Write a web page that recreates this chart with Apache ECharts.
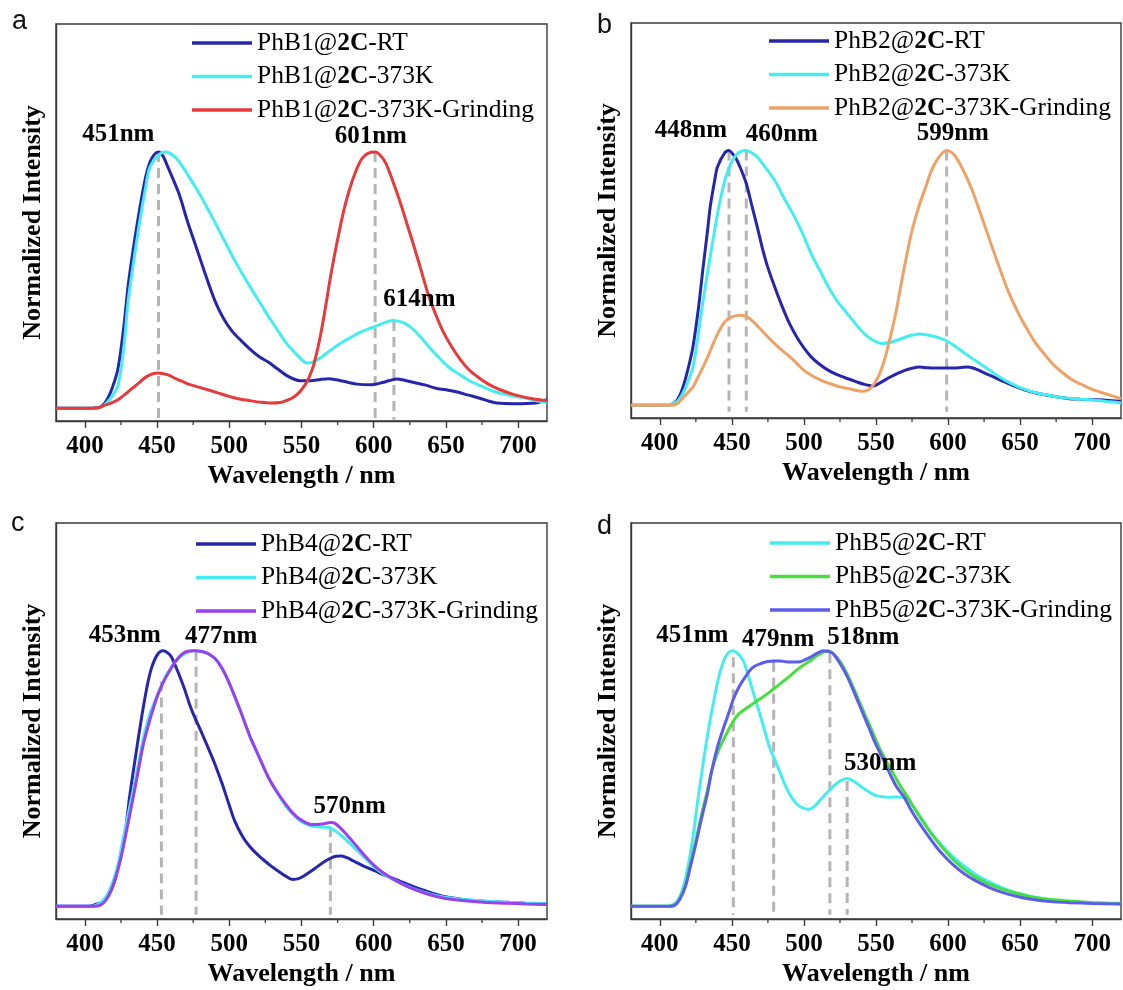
<!DOCTYPE html>
<html>
<head>
<meta charset="utf-8">
<script src="https://cdn.jsdelivr.net/npm/echarts@6/dist/echarts.min.js"></script>
<style>
html,body{margin:0;padding:0;background:#fff;}
#chart{width:1123px;height:990px;}
</style>
</head>
<body>
<div id="chart"></div>
<script>
// ---------- DATA ----------
const xTicks = [400, 450, 500, 550, 600, 650, 700];
const xMinorTicks = [425, 475, 525, 575, 625, 675];

// Panel a
const namesA = ['PhB1@2C-RT', 'PhB1@2C-373K', 'PhB1@2C-373K-Grinding'];
const a_RT = [[380,0],[405,0],[411,0.005],[415,0.03],[419,0.08],[423,0.157],[427,0.32],[430,0.48],[434,0.64],[438,0.78],[442,0.9],[445,0.96],[448,0.99],[451,1.0],[454,0.985],[457.6,0.94],[465,0.84],[471,0.73],[477,0.63],[483,0.53],[490,0.42],[496,0.35],[502,0.30],[508,0.265],[514.5,0.23],[521,0.2],[527,0.18],[533,0.155],[539,0.13],[545,0.113],[549,0.107],[556.5,0.107],[563,0.112],[569,0.115],[574,0.111],[579,0.105],[588.7,0.094],[598.6,0.092],[606,0.10],[611,0.108],[616,0.114],[622,0.108],[628,0.10],[636,0.09],[643,0.078],[650,0.072],[658,0.063],[665,0.052],[673,0.04],[680,0.027],[685,0.02],[697.5,0.017],[712,0.02],[720,0.033]];
const a_373K = [[380,0],[408,0],[413,0.01],[418,0.04],[423,0.09],[427,0.24],[430,0.42],[434,0.58],[438,0.73],[442,0.86],[445,0.94],[451.4,0.99],[456,1.0],[462.6,0.98],[468,0.94],[472.5,0.9],[479,0.84],[485,0.78],[491,0.715],[497,0.65],[503,0.585],[509.5,0.52],[516,0.46],[522,0.405],[528,0.35],[534,0.30],[540,0.25],[546.6,0.21],[551,0.185],[554,0.176],[559,0.183],[564,0.2],[569,0.222],[576,0.25],[583.7,0.275],[591,0.297],[598.6,0.314],[606,0.33],[613,0.342],[617,0.34],[621,0.333],[627,0.31],[633,0.275],[639,0.235],[645.6,0.196],[652,0.16],[660,0.13],[667,0.105],[675,0.085],[682,0.068],[690,0.055],[698,0.046],[705,0.04],[712,0.03],[720,0.022]];
const a_Grind = [[380,0],[405,0],[410,0.003],[413,0.01],[418,0.02],[423,0.033],[428,0.055],[433,0.078],[438,0.102],[443,0.124],[450,0.137],[457.6,0.13],[463,0.115],[470,0.098],[477,0.085],[485,0.072],[492,0.06],[499.7,0.046],[507,0.036],[514.5,0.029],[522,0.023],[529,0.02],[535,0.022],[539,0.029],[543,0.038],[546.6,0.052],[550,0.072],[554,0.105],[557,0.145],[559,0.18],[563,0.28],[566.5,0.39],[570,0.51],[574,0.63],[578,0.74],[581,0.81],[585,0.885],[588.7,0.94],[592,0.975],[596,0.995],[601,1.0],[605,0.985],[608.5,0.955],[613,0.89],[618,0.81],[623,0.72],[628,0.63],[633,0.535],[638,0.44],[643,0.365],[648,0.30],[654,0.24],[660,0.19],[666,0.15],[673,0.118],[680,0.092],[687.6,0.072],[695,0.057],[702,0.046],[710,0.037],[720,0.029]];
const peaksA = [451, 601, 614];
const peakTopsA = [1.0, 1.0, 0.34];

// Panel b
const namesB = ['PhB2@2C-RT', 'PhB2@2C-373K', 'PhB2@2C-373K-Grinding'];
const b_RT = [[380,0],[405,0],[408,0.003],[412,0.02],[415.4,0.06],[419,0.13],[423,0.23],[427,0.39],[430,0.54],[433,0.68],[435,0.78],[438,0.88],[440,0.935],[445,0.99],[448,1.0],[450,0.99],[452.7,0.97],[456,0.93],[460,0.87],[464,0.78],[467.6,0.70],[471,0.62],[475,0.54],[480,0.46],[485,0.386],[490,0.32],[495,0.268],[500,0.225],[505,0.19],[511,0.16],[517,0.137],[523,0.12],[530,0.105],[536,0.093],[542,0.082],[548,0.076],[554,0.092],[559.6,0.11],[565,0.125],[570,0.137],[575,0.145],[580,0.15],[586,0.147],[592,0.146],[598,0.146],[604,0.146],[609,0.148],[614,0.15],[619,0.143],[624,0.13],[630,0.115],[636.7,0.098],[645,0.077],[654,0.059],[661,0.048],[669,0.039],[676,0.032],[684,0.026],[692,0.024],[701,0.022],[710,0.02],[720,0.016]];
const b_373K = [[380,0],[406,0],[408,0.003],[412,0.015],[415.4,0.04],[419,0.085],[423,0.15],[427,0.29],[430,0.41],[434,0.55],[438,0.686],[441,0.78],[445,0.88],[449,0.945],[452.7,0.98],[456,0.995],[460,1.0],[464,0.99],[467.6,0.974],[473,0.935],[480,0.88],[486,0.815],[492.5,0.75],[499,0.675],[505,0.595],[511,0.53],[517,0.464],[523,0.41],[530,0.36],[536,0.318],[542,0.28],[548,0.255],[554.6,0.242],[561,0.248],[567,0.26],[573,0.272],[579.5,0.28],[586,0.276],[592,0.268],[598,0.255],[604,0.235],[610,0.21],[617,0.183],[623,0.16],[629,0.137],[636,0.11],[644,0.085],[651,0.067],[659,0.052],[669,0.04],[679,0.03],[689,0.025],[699,0.022],[710,0.015],[720,0.009]];
const b_Grind = [[380,0],[408,0],[411,0.003],[413,0.01],[417,0.035],[423,0.072],[426,0.105],[430,0.15],[434,0.2],[438,0.255],[441,0.29],[445,0.327],[450,0.347],[456.4,0.353],[461,0.345],[465,0.327],[470,0.298],[475,0.268],[481,0.235],[487.5,0.203],[494,0.17],[500,0.137],[506,0.115],[512,0.098],[518,0.085],[525,0.072],[532,0.064],[540,0.055],[544,0.058],[547,0.072],[550,0.095],[552.6,0.124],[556,0.18],[560,0.268],[564,0.37],[567.5,0.477],[571,0.58],[575,0.686],[580,0.785],[584.5,0.856],[588,0.915],[592,0.96],[596,0.99],[599,1.0],[603,0.99],[607,0.96],[612,0.905],[617,0.84],[623,0.745],[629,0.647],[635,0.55],[641.6,0.45],[648,0.37],[654,0.307],[660,0.25],[666.5,0.203],[673,0.16],[679,0.13],[686,0.1],[694,0.078],[701,0.06],[708.7,0.046],[715,0.035],[720,0.026]];
const peaksB = [448, 460, 599];
const peakTopsB = [1.0, 1.0, 1.0];

// Panel c
const namesC = ['PhB4@2C-RT', 'PhB4@2C-373K', 'PhB4@2C-373K-Grinding'];
const c_RT = [[380,0],[403,0],[405.7,0.003],[409,0.01],[413,0.02],[417,0.05],[420.5,0.098],[424,0.18],[428,0.295],[431,0.43],[435,0.583],[439,0.73],[443,0.858],[446,0.93],[450,0.983],[454,1.0],[459,0.983],[462,0.95],[465,0.91],[469,0.85],[472.5,0.79],[476,0.74],[480,0.69],[485,0.625],[490,0.557],[495,0.48],[499.7,0.40],[504,0.33],[509.5,0.27],[514,0.235],[519.4,0.203],[524,0.18],[529,0.157],[534,0.137],[539,0.118],[544,0.105],[548,0.108],[551.6,0.118],[556,0.135],[561.5,0.157],[566,0.175],[571,0.19],[574,0.196],[577.6,0.197],[582,0.189],[586,0.177],[591,0.163],[596,0.15],[601,0.138],[606,0.125],[612,0.112],[618,0.098],[625,0.082],[633,0.066],[640,0.052],[648,0.039],[658,0.029],[668,0.022],[680,0.018],[692.5,0.016],[705,0.012],[720,0.009]];
const c_373K = [[380,0],[405,0],[408,0.004],[412,0.02],[415.6,0.046],[419,0.09],[423,0.164],[426,0.25],[430,0.36],[434,0.47],[438,0.583],[441,0.67],[445,0.754],[449,0.81],[452.7,0.858],[456,0.9],[460,0.937],[464,0.965],[467.5,0.983],[472,0.996],[476,1.0],[480,0.998],[485,0.99],[489,0.975],[492,0.957],[497,0.91],[502,0.846],[508,0.76],[514.5,0.662],[521,0.58],[527,0.505],[533,0.445],[539,0.393],[544,0.36],[549,0.334],[556.5,0.315],[563,0.31],[569,0.308],[574,0.292],[579,0.27],[584,0.243],[588.7,0.216],[595,0.183],[601,0.15],[607,0.125],[613.4,0.105],[620,0.087],[626,0.072],[634,0.056],[643,0.042],[652,0.033],[663,0.026],[675,0.021],[687.6,0.017],[703,0.013],[720,0.009]];
const c_Grind = [[380,0],[407,0],[410.6,0.004],[414,0.02],[418,0.059],[422,0.125],[425.5,0.203],[429,0.3],[433,0.413],[437,0.53],[440,0.622],[444,0.71],[447.7,0.78],[451,0.835],[455,0.885],[459,0.925],[462.6,0.957],[466,0.98],[470,0.996],[476,1.0],[480,0.998],[485,0.99],[489,0.975],[492,0.957],[497,0.91],[502,0.846],[508,0.76],[514.5,0.662],[521,0.58],[527,0.505],[533,0.448],[539,0.40],[544,0.365],[549,0.34],[556.5,0.32],[561,0.32],[566.5,0.324],[570,0.328],[572.6,0.326],[577,0.306],[581,0.282],[586,0.25],[591,0.216],[597,0.178],[603.5,0.144],[610,0.118],[616,0.098],[622,0.081],[628,0.066],[636,0.05],[645.6,0.035],[655,0.026],[665,0.02],[678,0.015],[692.5,0.012],[705,0.009],[720,0.007]];
const peaksC = [453, 477, 570];
const peakTopsC = [0.88, 1.0, 0.31];

// Panel d
const namesD = ['PhB5@2C-RT', 'PhB5@2C-373K', 'PhB5@2C-373K-Grinding'];
const d_RT = [[380,0],[405,0],[408,0.003],[412,0.02],[415.4,0.06],[419,0.14],[423,0.27],[426,0.4],[430,0.558],[434,0.7],[438,0.82],[441,0.9],[445,0.97],[448,0.995],[450.7,1.0],[454,0.99],[457.7,0.963],[461,0.91],[465,0.833],[469,0.76],[472.6,0.69],[476,0.625],[480,0.571],[484,0.515],[487.5,0.467],[491,0.43],[495,0.40],[499,0.385],[503.7,0.38],[508,0.395],[512,0.42],[516,0.445],[520,0.467],[525,0.49],[530,0.50],[535,0.488],[540,0.467],[545,0.448],[549.6,0.434],[555,0.428],[559.6,0.427],[565,0.428],[569.5,0.427],[573,0.41],[577,0.38],[582,0.34],[587,0.297],[593,0.255],[599,0.218],[606,0.18],[614,0.146],[621,0.118],[629,0.094],[637,0.073],[646,0.055],[656,0.04],[666.5,0.029],[678,0.022],[691,0.016],[705,0.013],[720,0.012]];
const d_373K = [[380,0],[407,0],[410.4,0.004],[414,0.03],[418,0.088],[421,0.16],[425,0.258],[429,0.36],[433,0.454],[436,0.53],[440,0.60],[444,0.65],[447.7,0.69],[451,0.725],[455,0.754],[460,0.775],[465,0.794],[470,0.813],[475,0.833],[480,0.855],[485,0.878],[490,0.9],[495,0.924],[500,0.945],[505,0.963],[509,0.98],[512,0.99],[517,1.0],[520,0.99],[523.5,0.97],[527,0.94],[532,0.885],[537,0.82],[542,0.754],[547,0.69],[552,0.624],[557,0.57],[562,0.52],[567,0.47],[572,0.427],[577,0.38],[582,0.336],[587,0.295],[592,0.258],[598,0.217],[604,0.18],[611,0.145],[619,0.114],[628,0.088],[637,0.068],[648,0.05],[659,0.035],[671,0.026],[684,0.02],[700,0.014],[720,0.009]];
const d_Grind = [[380,0],[407,0],[410.4,0.004],[414,0.028],[418,0.081],[421,0.15],[425,0.244],[429,0.345],[433,0.44],[436,0.53],[440,0.624],[444,0.695],[447.7,0.754],[451,0.81],[455,0.859],[459,0.895],[462.6,0.924],[466,0.94],[470,0.95],[474,0.957],[479,0.96],[483,0.96],[487.5,0.957],[492,0.956],[497.5,0.957],[501,0.965],[505,0.976],[509,0.99],[513.6,1.0],[517,0.997],[520,0.99],[525,0.95],[530,0.90],[535,0.835],[540,0.767],[545,0.7],[549.6,0.637],[555,0.575],[559.6,0.519],[564,0.47],[569.5,0.427],[574,0.38],[579.5,0.33],[585,0.285],[592,0.231],[598,0.193],[604,0.16],[611,0.128],[619,0.10],[628,0.075],[637,0.055],[648,0.038],[659,0.026],[671,0.018],[684,0.014],[700,0.011],[720,0.009]];
const peaksD = [451, 479, 518, 530];
const peakTopsD = [0.975, 0.957, 0.99, 0.49];

// ---------- STYLE / LAYOUT ----------
const SERIF = '"Liberation Serif","Times New Roman",serif';
const Y_MIN = -0.05, Y_MAX = 1.5;
const C = {
  navy: '#2626ad', cyan: '#44eef0', red: '#e8393b', orange: '#eea266',
  purple: '#9a40ef', green: '#46e03c', violet: '#5c5cee', dash: '#b5b5b5', axis: '#3a3a3a'
};
const grids = [
  {left: 56, top: 24, width: 491, height: 397},
  {left: 631, top: 23, width: 490, height: 395},
  {left: 56, top: 523, width: 491, height: 396},
  {left: 631, top: 523, width: 490, height: 396}
];
const annot = [
  [[423.5,1.067],[598.3,1.058],[632,0.422]],
  [[421.9,1.076],[485,1.059],[603.6,1.065]],
  [[428,1.059],[494.7,1.054],[583.7,0.39]],
  [[422.9,1.059],[482.5,1.04],[541.5,1.048],[553.2,0.558]]
];
const dashBottoms = [-0.045, -0.025, -0.033, -0.033];
const legendPos = [
  {left: 187, top: 25}, {left: 764, top: 23}, {left: 191, top: 526}, {left: 765, top: 525}
];

const panels = [
  {names: namesA, data: [a_RT, a_373K, a_Grind], colors: [C.navy, C.cyan, C.red], peaks: peaksA, tops: peakTopsA},
  {names: namesB, data: [b_RT, b_373K, b_Grind], colors: [C.navy, C.cyan, C.orange], peaks: peaksB, tops: peakTopsB},
  {names: namesC, data: [c_RT, c_373K, c_Grind], colors: [C.navy, C.cyan, C.purple], peaks: peaksC, tops: peakTopsC},
  {names: namesD, data: [d_RT, d_373K, d_Grind], colors: [C.cyan, C.green, C.violet], peaks: peaksD, tops: peakTopsD}
];

const xAxes = [], yAxes = [], series = [], legends = [];
panels.forEach((p, i) => {
  xAxes.push({
    type: 'value', gridIndex: i, min: 380, max: 720, position: 'bottom',
    name: 'Wavelength / nm', nameLocation: 'middle', nameGap: 42,
    nameTextStyle: {fontFamily: SERIF, fontWeight: 'bold', fontSize: 26, color: '#000'},
    axisLine: {show: true, onZero: false, lineStyle: {color: C.axis, width: 1.4}},
    axisTick: {show: true, inside: false, length: 7, customValues: xTicks, lineStyle: {color: C.axis, width: 1.4}},
    axisLabel: {show: true, customValues: xTicks, margin: 13, fontFamily: SERIF, fontWeight: 'bold', fontSize: 25, color: '#000'},
    splitLine: {show: false}
  });
  yAxes.push({
    type: 'value', gridIndex: i, min: Y_MIN, max: Y_MAX,
    name: 'Normalized Intensity', nameLocation: 'middle', nameGap: 10, nameRotate: 90,
    nameTextStyle: {fontFamily: SERIF, fontWeight: 'bold', fontSize: 26, color: '#000'},
    axisLine: {show: true, onZero: false, lineStyle: {color: C.axis, width: 1.4}},
    axisTick: {show: false}, axisLabel: {show: false}, splitLine: {show: false}
  });
});

panels.forEach((p, i) => {
  // minor ticks on the bottom edge, placed through the axis scale
  series.push({
    type: 'custom', xAxisIndex: i, yAxisIndex: i, silent: true, clip: false, z: 20,
    data: xMinorTicks.map(v => [v, Y_MIN]),
    encode: {x: 0, y: 1},
    renderItem: (params, api) => {
      const pt = api.coord([api.value(0), api.value(1)]);
      return {type: 'line', shape: {x1: pt[0], y1: pt[1], x2: pt[0], y2: pt[1] + 4},
        style: {stroke: C.axis, lineWidth: 1.3}};
    }
  });
  p.peaks.forEach((pk, k) => {
    series.push({
      type: 'line', xAxisIndex: i, yAxisIndex: i, silent: true, z: 1,
      data: [[pk, p.tops[k]], [pk, dashBottoms[i]]],
      showSymbol: false, symbol: 'none',
      lineStyle: {color: C.dash, width: 3, type: [10, 6]},
      emphasis: {disabled: true}
    });
  });
  p.names.forEach((nm, k) => {
    series.push({
      name: nm, type: 'line', xAxisIndex: i, yAxisIndex: i, z: 3 + k,
      data: p.data[k], showSymbol: false, symbol: 'none', smooth: 0.3,
      lineStyle: {color: p.colors[k], width: 3},
      itemStyle: {color: p.colors[k]},
      emphasis: {disabled: true}
    });
  });
  series.push({
    type: 'scatter', xAxisIndex: i, yAxisIndex: i, silent: true, z: 10,
    symbolSize: 1, itemStyle: {color: 'rgba(255,255,255,0)', opacity: 1},
    data: p.peaks.map((pk, k) => [annot[i][k][0], annot[i][k][1], pk + 'nm']),
    label: {show: true, position: [0, 0], align: 'center', verticalAlign: 'middle',
      formatter: d => d.value[2], opacity: 1,
      fontFamily: SERIF, fontWeight: 'bold', fontSize: 25, color: '#000', textBorderWidth: 0},
    emphasis: {disabled: true}
  });
  legends.push({
    orient: 'vertical', left: legendPos[i].left, top: legendPos[i].top,
    data: p.names, icon: 'rect', itemWidth: 60, itemHeight: 3.5, itemGap: 7.5,
    selectedMode: false,
    formatter: name => {
      const m = name.split('@2C');
      return '{r|' + m[0] + '@}{b|2C}{r|' + m[1] + '}';
    },
    textStyle: {
      color: '#000',
      rich: {
        r: {fontFamily: SERIF, fontSize: 25.5, color: '#000'},
        b: {fontFamily: SERIF, fontSize: 25.5, fontWeight: 'bold', color: '#000'}
      }
    }
  });
});

const letters = [
  {t: 'a', x: 12, y: 8}, {t: 'b', x: 597, y: 12}, {t: 'c', x: 11, y: 510}, {t: 'd', x: 597, y: 513}
];

const chart = echarts.init(document.getElementById('chart'), null, {renderer: 'canvas'});
chart.setOption({
  backgroundColor: '#fff',
  animation: false,
  grid: grids.map(g => Object.assign({show: true, borderColor: C.axis, borderWidth: 1.4, backgroundColor: 'transparent'}, g)),
  xAxis: xAxes,
  yAxis: yAxes,
  legend: legends,
  series: series,
  graphic: letters.map(l => ({
    type: 'text', left: l.x, top: l.y,
    style: {text: l.t, font: '27px "Liberation Sans", Arial, sans-serif', fill: '#111'}
  }))
});
</script>
</body>
</html>
